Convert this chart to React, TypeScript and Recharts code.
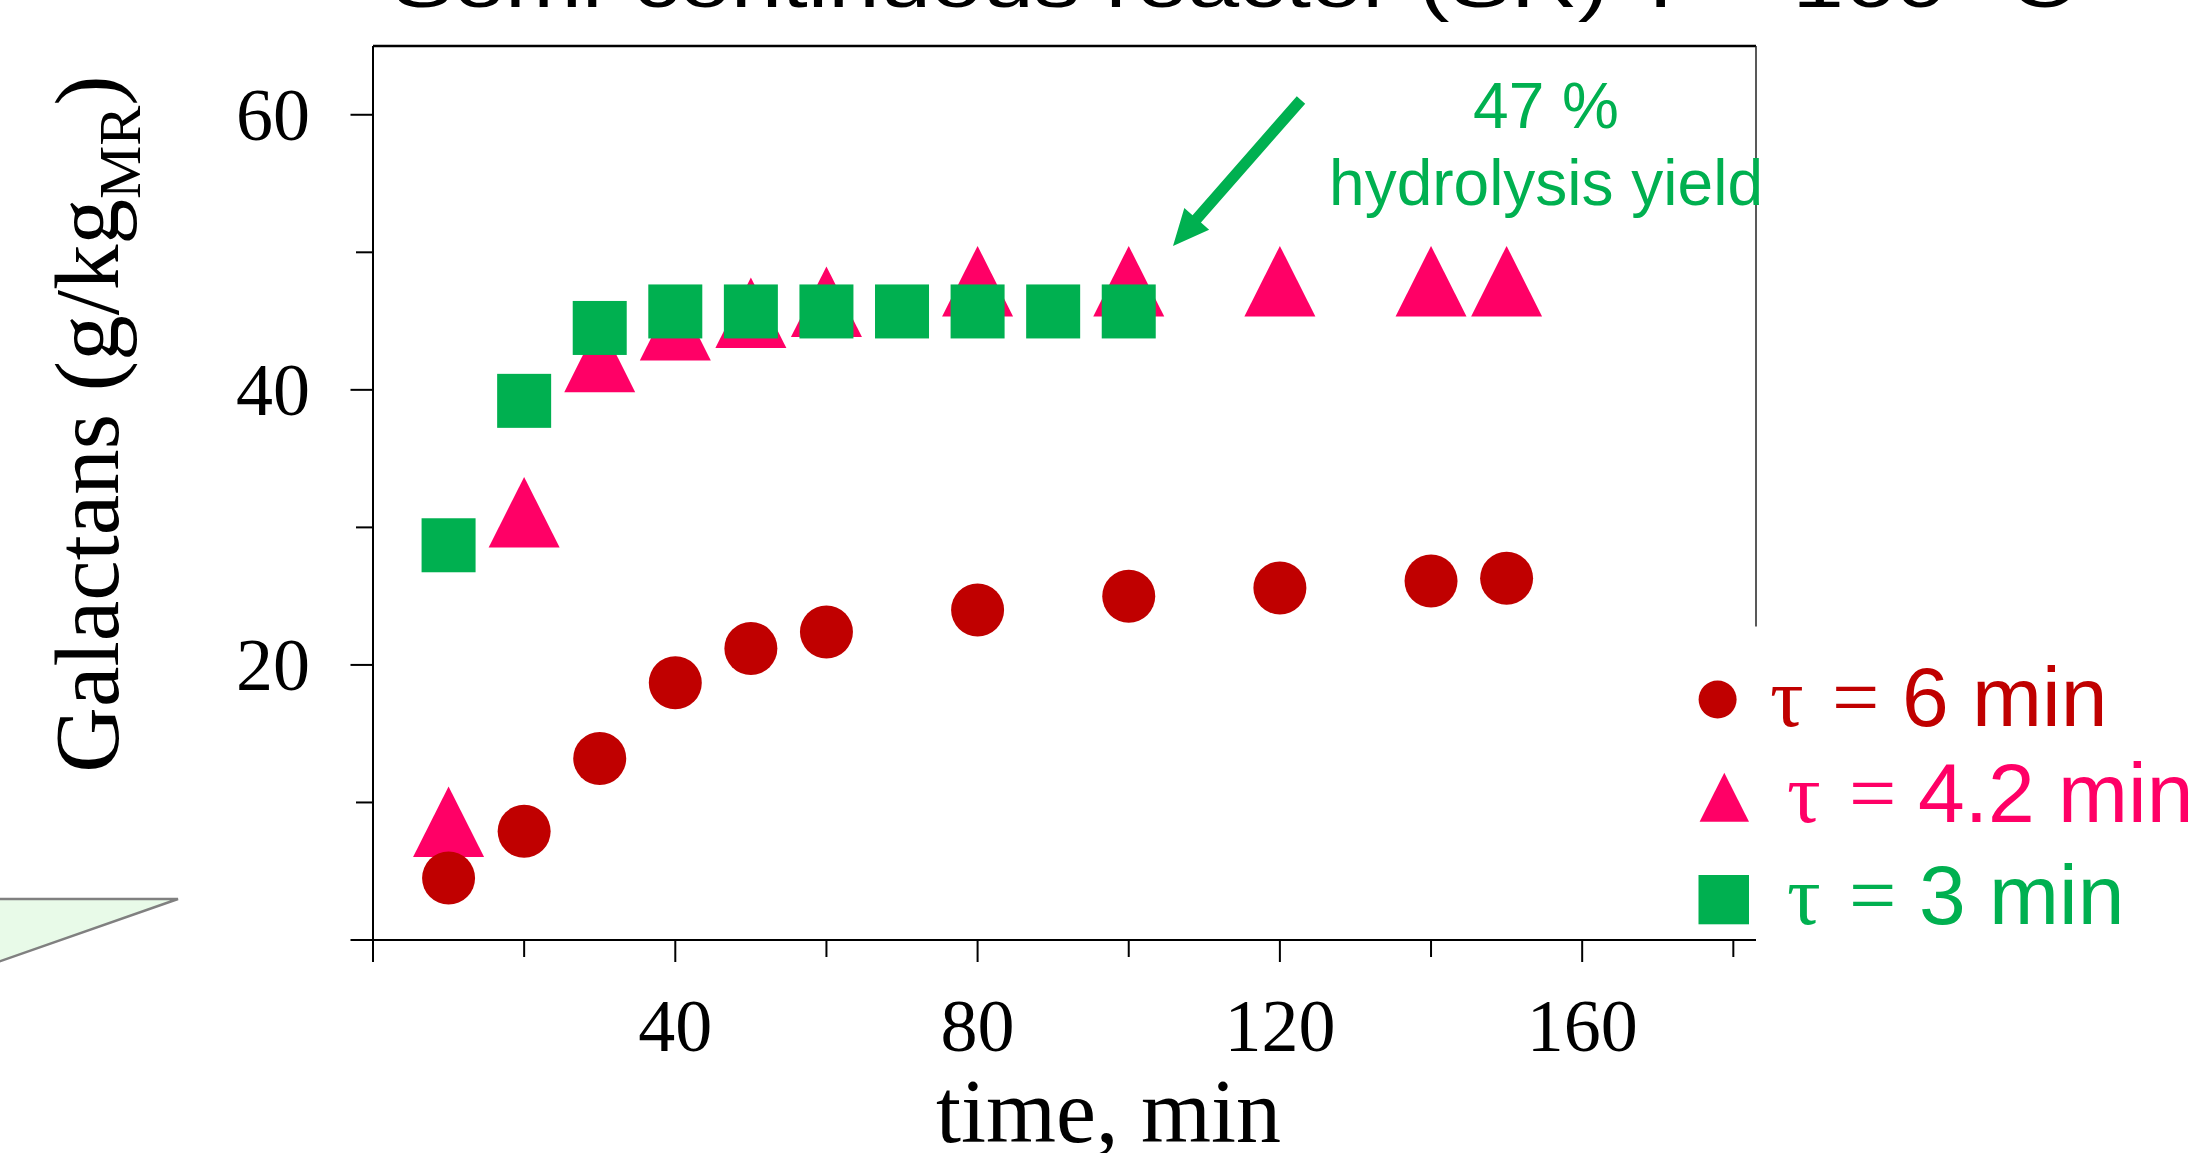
import React from "react";
import { Legend, ReferenceLine, Scatter, ScatterChart, XAxis, YAxis } from "recharts";

// galactans (g/kg MR) vs time (min), three residence times
const timesTau6 = [10, 20, 30, 40, 50, 60, 80, 100, 120, 140, 150];
const galTau6 = [4.5, 7.9, 13.2, 18.7, 21.2, 22.4, 24.0, 25.0, 25.6, 26.1, 26.3];
const timesTau42 = [10, 20, 30, 40, 50, 60, 80, 100, 120, 140, 150];
const galTau42 = [8.6, 31.1, 42.4, 44.7, 45.6, 46.4, 47.9, 47.9, 47.9, 47.9, 47.9];
const timesTau3 = [10, 20, 30, 40, 50, 60, 70, 80, 90, 100];
const galTau3 = [28.7, 39.2, 44.5, 45.7, 45.7, 45.7, 45.7, 45.7, 45.7, 45.7];

const xTicks = [0, 20, 40, 60, 80, 100, 120, 140, 160, 180];
const xTickLabels = [40, 80, 120, 160];
const yTicks = [0, 10, 20, 30, 40, 50, 60];
const yTickLabels = [20, 40, 60];
const legendValues = ["6 min", "4.2 min", "3 min"];

const RED = "#C00000";
const PINK = "#FF0066";
const GREEN = "#00B050";
const SERIF = '"Liberation Serif", "Times New Roman", serif';
const SANS = 'Arial, "Liberation Sans", sans-serif';

const zip = (ts: number[], vs: number[]) => ts.map((t, i) => ({ t, v: vs[i] }));
const tau6 = zip(timesTau6, galTau6);
const tau42 = zip(timesTau42, galTau42);
const tau3 = zip(timesTau3, galTau3);

const DotShape = (p: any) => <circle cx={p.cx} cy={p.cy} r={26.5} fill={RED} />;
const TriShape = (p: any) => (
  <polygon
    points={`${p.cx},${p.cy - 35.3} ${p.cx + 35.5},${p.cy + 35.3} ${p.cx - 35.5},${p.cy + 35.3}`}
    fill={PINK}
  />
);
const SquareShape = (p: any) => (
  <rect x={p.cx - 27} y={p.cy - 27} width={54} height={54} fill={GREEN} />
);

const XTick = ({ x, y, payload }: any) => {
  const v = payload.value;
  const major = v % 40 === 0;
  return (
    <g>
      <line x1={x} x2={x} y1={y} y2={y + (major ? 22 : 17)} stroke="#000" strokeWidth={2} />
      {xTickLabels.includes(v) && (
        <text x={x} y={y + 111} textAnchor="middle" fontFamily={SERIF} fontSize={74} fill="#000">
          {v}
        </text>
      )}
    </g>
  );
};

const YTick = ({ x, y, payload }: any) => {
  const v = payload.value;
  const major = v % 20 === 0;
  return (
    <g>
      <line x1={x - (major ? 22.5 : 17)} x2={x} y1={y} y2={y} stroke="#000" strokeWidth={2} />
      {yTickLabels.includes(v) && (
        <text x={x - 63} y={y + 25.5} textAnchor="end" fontFamily={SERIF} fontSize={74} fill="#000">
          {v}
        </text>
      )}
    </g>
  );
};

const XLabel = ({ viewBox }: any) => (
  <text
    x={viewBox.x + viewBox.width / 2 + 44}
    y={viewBox.y + 202}
    textAnchor="middle"
    fontFamily={SERIF}
    fontSize={90}
    fill="#000"
  >
    time, min
  </text>
);

const YLabel = ({ viewBox }: any) => (
  <text
    transform={`translate(${viewBox.x + 118},${viewBox.y + viewBox.height / 2 - 69}) rotate(-90)`}
    textAnchor="middle"
    fontFamily={SERIF}
    fontSize={91}
    fill="#000"
  >
    Galactans (g/kg
    <tspan fontSize={60} dy={22}>
      MR
    </tspan>
    <tspan dy={-22}>)</tspan>
  </text>
);

const LegendBox = () => {
  const colors = [RED, PINK, GREEN];
  const rows = [
    { base: 66, tau: 80, eq: 142, val: 212 },
    { base: 161.7, tau: 97, eq: 159, val: 228 },
    { base: 264.3, tau: 97, eq: 159, val: 229 },
  ];
  return (
    <svg width={515} height={290} style={{ display: "block", overflow: "visible" }}>
      <circle cx={27.6} cy={39.5} r={19} fill={RED} />
      <polygon points="34.3,112.7 59,161.7 9.6,161.7" fill={PINK} />
      <rect x={8.5} y={215} width={50.5} height={49.3} fill={GREEN} />
      {rows.map((r, i) => (
        <g key={i} fill={colors[i]} fontSize={84}>
          <text x={r.tau} y={r.base} fontFamily={SERIF}>τ</text>
          <text x={r.eq} y={r.base} fontFamily={SERIF}>=</text>
          <text x={r.val} y={r.base} fontFamily={SANS}>{legendValues[i]}</text>
        </g>
      ))}
    </svg>
  );
};

// arrow pointing at the plateau of the τ = 3 min series
const arrowPoints = (() => {
  const tail = [1301, 100];
  const tip = [1173, 246];
  const dx = tip[0] - tail[0];
  const dy = tip[1] - tail[1];
  const len = Math.hypot(dx, dy);
  const ux = dx / len, uy = dy / len;
  const nx = -uy, ny = ux;
  const bx = tip[0] - ux * 36, by = tip[1] - uy * 36;
  const s = 5.6, h = 16.5;
  const pts = [
    [tail[0] + nx * s, tail[1] + ny * s],
    [bx + nx * s, by + ny * s],
    [bx + nx * h, by + ny * h],
    tip,
    [bx - nx * h, by - ny * h],
    [bx - nx * s, by - ny * s],
    [tail[0] - nx * s, tail[1] - ny * s],
  ];
  return pts.map((p) => p.join(",")).join(" ");
})();

export default function App() {
  return (
    <div style={{ position: "fixed", left: 0, top: 0, width: 2205, height: 1153, background: "#fff" }}>
      <ScatterChart width={2205} height={1153} margin={{ top: 46, right: 449, bottom: 0, left: 0 }}>
        <XAxis
          type="number"
          dataKey="t"
          domain={[0, 183]}
          ticks={xTicks}
          interval={0}
          height={213}
          tickSize={0}
          tickMargin={0}
          tickLine={false}
          axisLine={{ stroke: "#000", strokeWidth: 2 }}
          tick={XTick}
          label={{ content: XLabel }}
        />
        <YAxis
          type="number"
          dataKey="v"
          domain={[0, 65]}
          ticks={yTicks}
          interval={0}
          width={373}
          tickSize={0}
          tickMargin={0}
          tickLine={false}
          axisLine={{ stroke: "#000", strokeWidth: 2 }}
          tick={YTick}
          label={{ content: YLabel }}
        />
        <ReferenceLine
          segment={[{ x: 0, y: 65 }, { x: 183, y: 65 }]}
          stroke="#000"
          strokeWidth={2.5}
          ifOverflow="visible"
        />
        <ReferenceLine
          segment={[{ x: 183, y: 65 }, { x: 183, y: 22.8 }]}
          stroke="#222"
          strokeWidth={1.5}
          ifOverflow="visible"
        />
        <Scatter name="τ = 4.2 min" data={tau42} shape={TriShape} isAnimationActive={false} />
        <Scatter name="τ = 6 min" data={tau6} shape={DotShape} isAnimationActive={false} />
        <Scatter name="τ = 3 min" data={tau3} shape={SquareShape} isAnimationActive={false} />
        <Legend
          layout="vertical"
          align="center"
          verticalAlign="middle"
          wrapperStyle={{ left: 1690, top: 660, width: 515, height: 290 }}
          content={LegendBox}
        />
      </ScatterChart>
      <svg
        width={2205}
        height={1153}
        style={{ position: "absolute", left: 0, top: 0, pointerEvents: "none" }}
      >
        <text x={392} y={7} fontFamily={SANS} fontSize={70} fill="#000" textLength={1684} lengthAdjust="spacingAndGlyphs">
          Semi-continuous reactor (SR) T = 160 °C
        </text>
        <polygon points="-5,899 178,899 -5,963" fill="#E8FAE8" stroke="#808080" strokeWidth={2.5} />
        <polygon points={arrowPoints} fill={GREEN} />
        <text x={1546} y={128} textAnchor="middle" fontFamily={SANS} fontSize={64} fill={GREEN}>
          47 %
        </text>
        <text x={1546} y={205} textAnchor="middle" fontFamily={SANS} fontSize={64} fill={GREEN}>
          hydrolysis yield
        </text>
      </svg>
    </div>
  );
}
